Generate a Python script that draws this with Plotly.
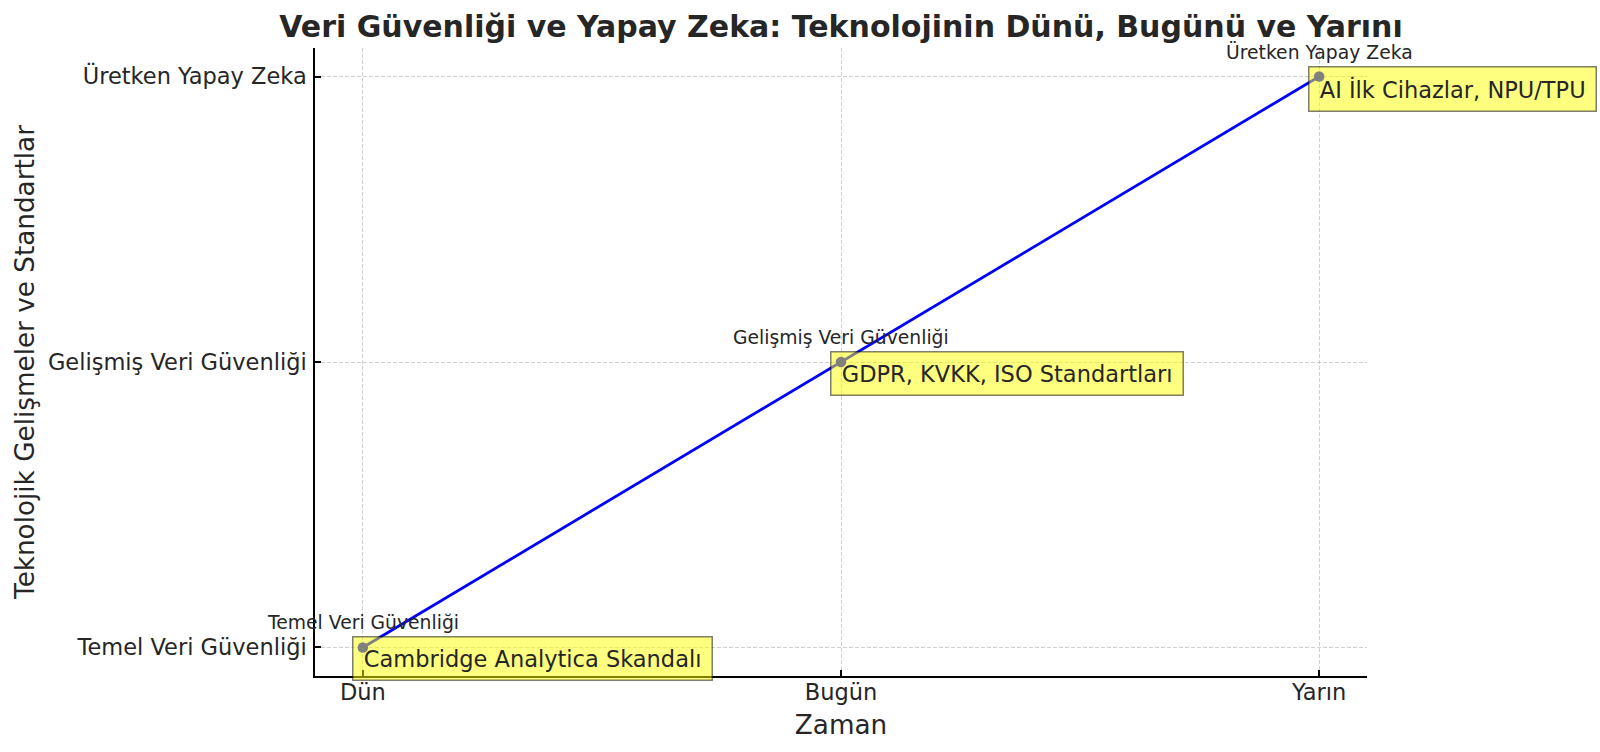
import plotly.graph_objects as go

x_labels = ["Dün", "Bugün", "Yarın"]
y_labels = ["Temel Veri Güvenliği", "Gelişmiş Veri Güvenliği", "Üretken Yapay Zeka"]
x_vals = [0, 1, 2]
y_vals = [0, 1, 2]
events = ["Cambridge Analytica Skandalı", "GDPR, KVKK, ISO Standartları", "AI İlk Cihazlar, NPU/TPU"]

FONT = "DejaVu Sans"
TXT = "#262626"
GRID = "rgba(176,176,176,0.6)"
HAIR = "\u200a"

W, H = 1600, 752

fig = go.Figure()
fig.add_trace(go.Scatter(
    x=x_vals, y=y_vals, mode="lines+markers",
    line=dict(color="blue", width=2.8),
    marker=dict(color="blue", size=10.5),
    showlegend=False, hoverinfo="skip", cliponaxis=False,
))

annotations = []
for xv, yv, lab, ev in zip(x_vals, y_vals, y_labels, events):
    annotations.append(dict(
        x=xv, y=yv, xref="x", yref="y", text=lab, showarrow=False,
        xanchor="center", yanchor="bottom", yshift=12,
        font=dict(family=FONT, size=18.75, color=TXT),
    ))
    annotations.append(dict(
        x=xv, y=yv, xref="x", yref="y", text=HAIR + ev + HAIR, showarrow=False,
        xanchor="left", yanchor="top", xshift=-11, yshift=11,
        font=dict(family=FONT, size=22.5, color=TXT),
        bgcolor="rgba(255,255,0,0.5)", bordercolor="rgba(0,0,0,0.5)",
        borderwidth=1.5, borderpad=8,
    ))

axis_common = dict(
    range=[-0.1, 2.1], automargin=False,
    showline=True, linecolor="black", linewidth=1.5, mirror=False,
    ticks="inside", ticklen=6.5, tickwidth=1.5, tickcolor="black",
    showgrid=True, gridcolor=GRID, griddash="4px,2px", gridwidth=1,
    zeroline=False, tickfont=dict(family=FONT, size=22.5, color=TXT),
)

fig.update_layout(
    width=W, height=H,
    margin=dict(l=314.5, r=W - 1367.3, t=48.3, b=H - 676, autoexpand=False),
    paper_bgcolor="white", plot_bgcolor="white",
    font=dict(family=FONT, color=TXT),
    title=dict(
        text="<b>Veri Güvenliği ve Yapay Zeka: Teknolojinin Dünü, Bugünü ve Yarını</b>",
        x=841 / W, xanchor="center", y=1 - 26.5 / H, yanchor="middle",
        font=dict(family=FONT, size=30, color=TXT),
    ),
    annotations=annotations,
    xaxis=dict(
        tickvals=x_vals, ticktext=x_labels, ticklabelstandoff=-5, **axis_common,
        title=dict(text="Zaman", font=dict(family=FONT, size=26.25, color=TXT), standoff=11.5),
    ),
    yaxis=dict(
        tickvals=y_vals, ticktext=y_labels, ticklabelstandoff=2, **axis_common,
        title=dict(text="Teknolojik Gelişmeler ve Standartlar",
                   font=dict(family=FONT, size=26.25, color=TXT), standoff=6),
    ),
)

fig.write_html(
    "out.html",
    config={"displayModeBar": False},
    post_script="document.body.style.margin='0';document.body.style.overflow='hidden';",
)
